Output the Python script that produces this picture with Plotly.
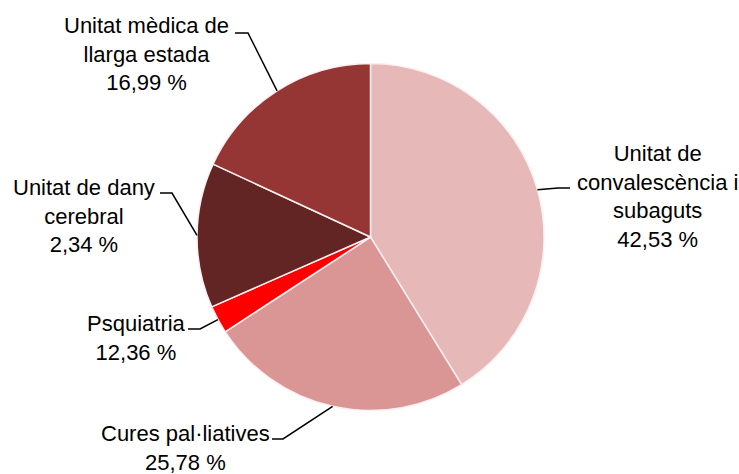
import math
import plotly.graph_objects as go

# ---- data ----
categories = [
    "Unitat de convalescència i subaguts",
    "Cures pal·liatives",
    "Psquiatria",
    "Unitat de dany cerebral",
    "Unitat mèdica de llarga estada",
]
values = [41.2, 24.6, 2.6, 13.5, 18.1]
label_lines = [
    "Unitat de<br>convalescència i<br>subaguts",
    "Cures pal·liatives",
    "Psquiatria",
    "Unitat de dany<br>cerebral",
    "Unitat mèdica de<br>llarga estada",
]
label_pct = ["42,53 %", "25,78 %", "12,36 %", "2,34 %", "16,99 %"]
colors = ["#E6B8B7", "#DA9694", "#FF0000", "#632523", "#963634"]

# ---- layout constants (pixels) ----
W, H = 739, 474
dom_x = [197 / W, 544 / W]
dom_y = [1 - 410.5 / H, 1 - 63.5 / H]
# label block centres and leader elbow points (pixels)
label_pos = [(657, 196), (185, 448), (136, 337.5), (84, 215.5), (146, 53.5)]
elbows = [[(558, 188), (570, 188)],
          [(283, 439), (272, 439)],
          [(200, 329), (188, 329)],
          [(172, 193), (160, 193)],
          [(248, 33), (235, 33)]]

FONT = "Liberation Sans, Arial, sans-serif"
FS = 22

fig = go.Figure(go.Pie(
    labels=categories, values=values, sort=False, direction="clockwise",
    rotation=0, textinfo="none", hoverinfo="label+percent",
    marker=dict(colors=colors, line=dict(color="#FBEFEF", width=1.5)),
    domain=dict(x=dom_x, y=dom_y), showlegend=False,
))

# pie geometry in pixels derived from the domain
cx = (dom_x[0] + dom_x[1]) / 2 * W
cy = (1 - (dom_y[0] + dom_y[1]) / 2) * H
r = min((dom_x[1] - dom_x[0]) * W, (dom_y[1] - dom_y[0]) * H) / 2

def px2paper(x, y):
    return x / W, 1 - y / H

total = sum(values)
cum = 0
shapes = []
annotations = []
for i, v in enumerate(values):
    mid = (cum + v / 2) / total * 2 * math.pi
    cum += v
    sx = cx + r * math.sin(mid)
    sy = cy - r * math.cos(mid)
    pts = [(sx, sy)] + elbows[i]
    path = ""
    for j, (x, y) in enumerate(pts):
        px, py = px2paper(x, y)
        path += ("M" if j == 0 else " L") + f"{px:.5f},{py:.5f}"
    shapes.append(dict(type="path", path=path, xref="paper", yref="paper",
                       line=dict(color="black", width=1.5)))
    lx, ly = px2paper(*label_pos[i])
    annotations.append(dict(
        text=label_lines[i] + "<br>" + label_pct[i], x=lx, y=ly,
        xref="paper", yref="paper", xanchor="center", yanchor="middle",
        align="center", showarrow=False,
        font=dict(family=FONT, size=FS, color="black")))

fig.update_layout(
    width=W, height=H, margin=dict(l=0, r=0, t=0, b=0),
    paper_bgcolor="white", plot_bgcolor="white",
    shapes=shapes, annotations=annotations,
)
fig.write_html("out.html",
               config={"displayModeBar": False},
               post_script="document.body.style.margin='0px';")
